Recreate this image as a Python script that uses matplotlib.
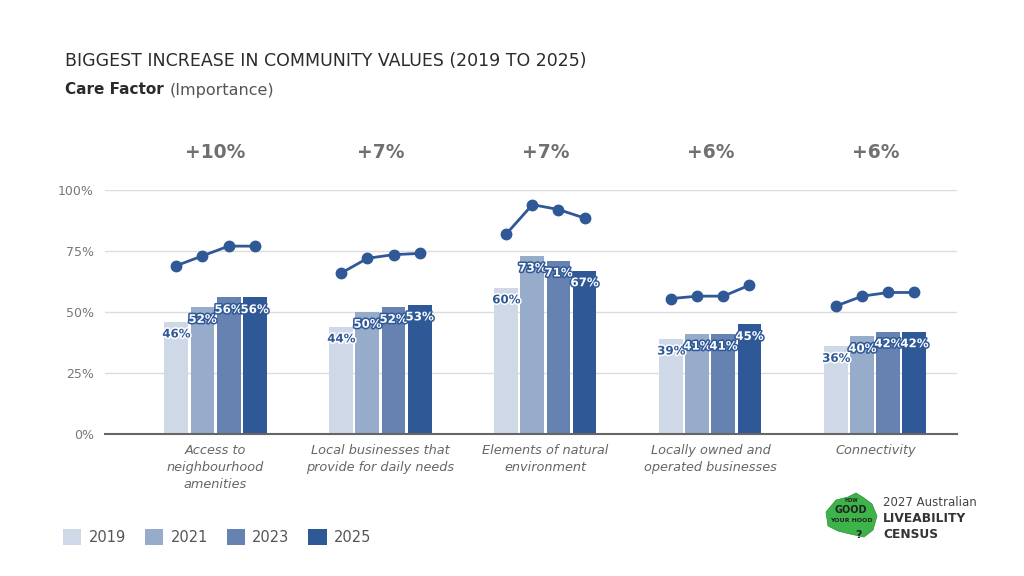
import matplotlib.pyplot as plt
import matplotlib.patheffects as pe
from matplotlib.patches import Patch, Polygon
import numpy as np

# data
categories = [
    "Access to\nneighbourhood\namenities",
    "Local businesses that\nprovide for daily needs",
    "Elements of natural\nenvironment",
    "Locally owned and\noperated businesses",
    "Connectivity",
]
years = ["2019", "2021", "2023", "2025"]
bars_2019 = [46, 44, 60, 39, 36]
bars_2021 = [52, 50, 73, 41, 40]
bars_2023 = [56, 52, 71, 41, 42]
bars_2025 = [56, 53, 67, 45, 42]
line_values = [
    [69, 73, 77, 77],
    [66, 72, 73.5, 74],
    [82, 94, 92, 88.5],
    [55.5, 56.5, 56.5, 61],
    [52.5, 56.5, 58, 58],
]
increases = ["+10%", "+7%", "+7%", "+6%", "+6%"]

colors = ["#cfd8e7", "#97abcb", "#6582b1", "#2f5897"]
line_color = "#2f5897"

plt.rcParams["font.family"] = ["DejaVu Sans"]

fig = plt.figure(figsize=(10.24, 5.76), dpi=100)
fig.patch.set_facecolor("white")
ax = fig.add_axes([105 / 1024, 1 - 434 / 576, (957 - 105) / 1024, 244 / 576])

x = np.arange(len(categories))
step = 0.158
width = 0.145
series = [bars_2019, bars_2021, bars_2023, bars_2025]

for i, vals in enumerate(series):
    pos = x + (i - 1.5) * step
    ax.bar(pos, vals, width=width, color=colors[i], zorder=2)
    for p, v in zip(pos, vals):
        if i == 0:
            tc, sc = "#2f5897", "white"
        else:
            tc, sc = "white", "#2f5897"
        ax.text(p, v - 5, f"{v}%", ha="center", va="center", fontsize=8.5,
                fontweight="bold", color=tc, zorder=4,
                path_effects=[pe.withStroke(linewidth=2.2, foreground=sc)])

# importance lines
for j, vals in enumerate(line_values):
    pos = x[j] + (np.arange(4) - 1.5) * step
    ax.plot(pos, vals, color=line_color, lw=2, marker="o", markersize=7.5,
            zorder=3, clip_on=False)

ax.set_xlim(-0.67, 4.495)
ax.set_ylim(0, 100)
ax.set_yticks([0, 25, 50, 75, 100])
ax.set_yticklabels(["0%", "25%", "50%", "75%", "100%"])
ax.yaxis.grid(True, color="#dcdcdc", lw=1, zorder=0)
ax.set_axisbelow(True)
ax.tick_params(axis="y", length=0, pad=8, labelsize=9, labelcolor="#777777")
ax.set_xticks(x)
ax.set_xticklabels(categories, fontsize=9.3, style="italic", color="#666666",
                   linespacing=1.4, va="top")
ax.tick_params(axis="x", length=0, pad=7)
ax.spines[["top", "left", "right"]].set_visible(False)
ax.spines["bottom"].set_color("#666666")
ax.spines["bottom"].set_linewidth(1.5)
ax.spines["bottom"].set_zorder(5)

# increase annotations above each group
for j, s in enumerate(increases):
    fx = ax.transData.transform((x[j], 0))[0] / fig.bbox.width
    fig.text(fx, 1 - 153 / 576, s, ha="center", va="center", fontsize=13.5,
             fontweight="bold", color="#707070")

# title and subtitle
fig.text(65 / 1024, 1 - 61 / 576, "BIGGEST INCREASE IN COMMUNITY VALUES (2019 TO 2025)",
         fontsize=12.5, color="#2b2b2b", ha="left", va="center")
t1 = fig.text(65 / 1024, 1 - 90 / 576, "Care Factor", fontsize=11, fontweight="bold",
              color="#2b2b2b", ha="left", va="center")
fig.canvas.draw()
bb = t1.get_window_extent()
fig.text(bb.x1 / fig.bbox.width + 0.006, 1 - 90 / 576, "(Importance)", fontsize=11.5,
         color="#555555", ha="left", va="center")

# legend
handles = [Patch(facecolor=c, edgecolor="none") for c in colors]
fig.legend(handles, years, ncol=4, loc="center left",
           bbox_to_anchor=(50 / 1024, 1 - 537 / 576), frameon=False,
           fontsize=10.5, labelcolor="#555555", handlelength=1.25, handleheight=1.25,
           handletextpad=0.5, columnspacing=1.3)

# logo
shape = Polygon([(826, 512), (836, 500), (848, 497), (856, 493), (864, 498),
                 (872, 504), (877, 516), (873, 530), (864, 537), (850, 534),
                 (838, 531), (828, 526)], closed=True, facecolor="#3cb44a",
                edgecolor="#2e8b3a", lw=0.5)
shape.set_xy([(px / 1024, 1 - py / 576) for px, py in shape.get_xy()])
shape.set_transform(fig.transFigure)
fig.patches.append(shape)
fig.text(851 / 1024, 1 - 501 / 576, "HOW", fontsize=3.5, fontweight="bold",
         color="#222222", ha="center", va="center")
fig.text(851 / 1024, 1 - 510 / 576, "GOOD", fontsize=7, fontweight="bold",
         color="#222222", ha="center", va="center")
fig.text(851 / 1024, 1 - 521 / 576, "YOUR HOOD", fontsize=4.5, fontweight="bold",
         color="#222222", ha="center", va="center")
fig.text(858 / 1024, 1 - 535 / 576, "?", fontsize=8, fontweight="bold",
         color="#222222", ha="center", va="center")
fig.text(883 / 1024, 1 - 503 / 576, "2027 Australian", fontsize=8.5,
         color="#444444", ha="left", va="center")
fig.text(883 / 1024, 1 - 519 / 576, "LIVEABILITY", fontsize=8.8, fontweight="bold",
         color="#333333", ha="left", va="center")
fig.text(883 / 1024, 1 - 535 / 576, "CENSUS", fontsize=8.8, fontweight="bold",
         color="#333333", ha="left", va="center")

plt.savefig("out.png", dpi=100)
